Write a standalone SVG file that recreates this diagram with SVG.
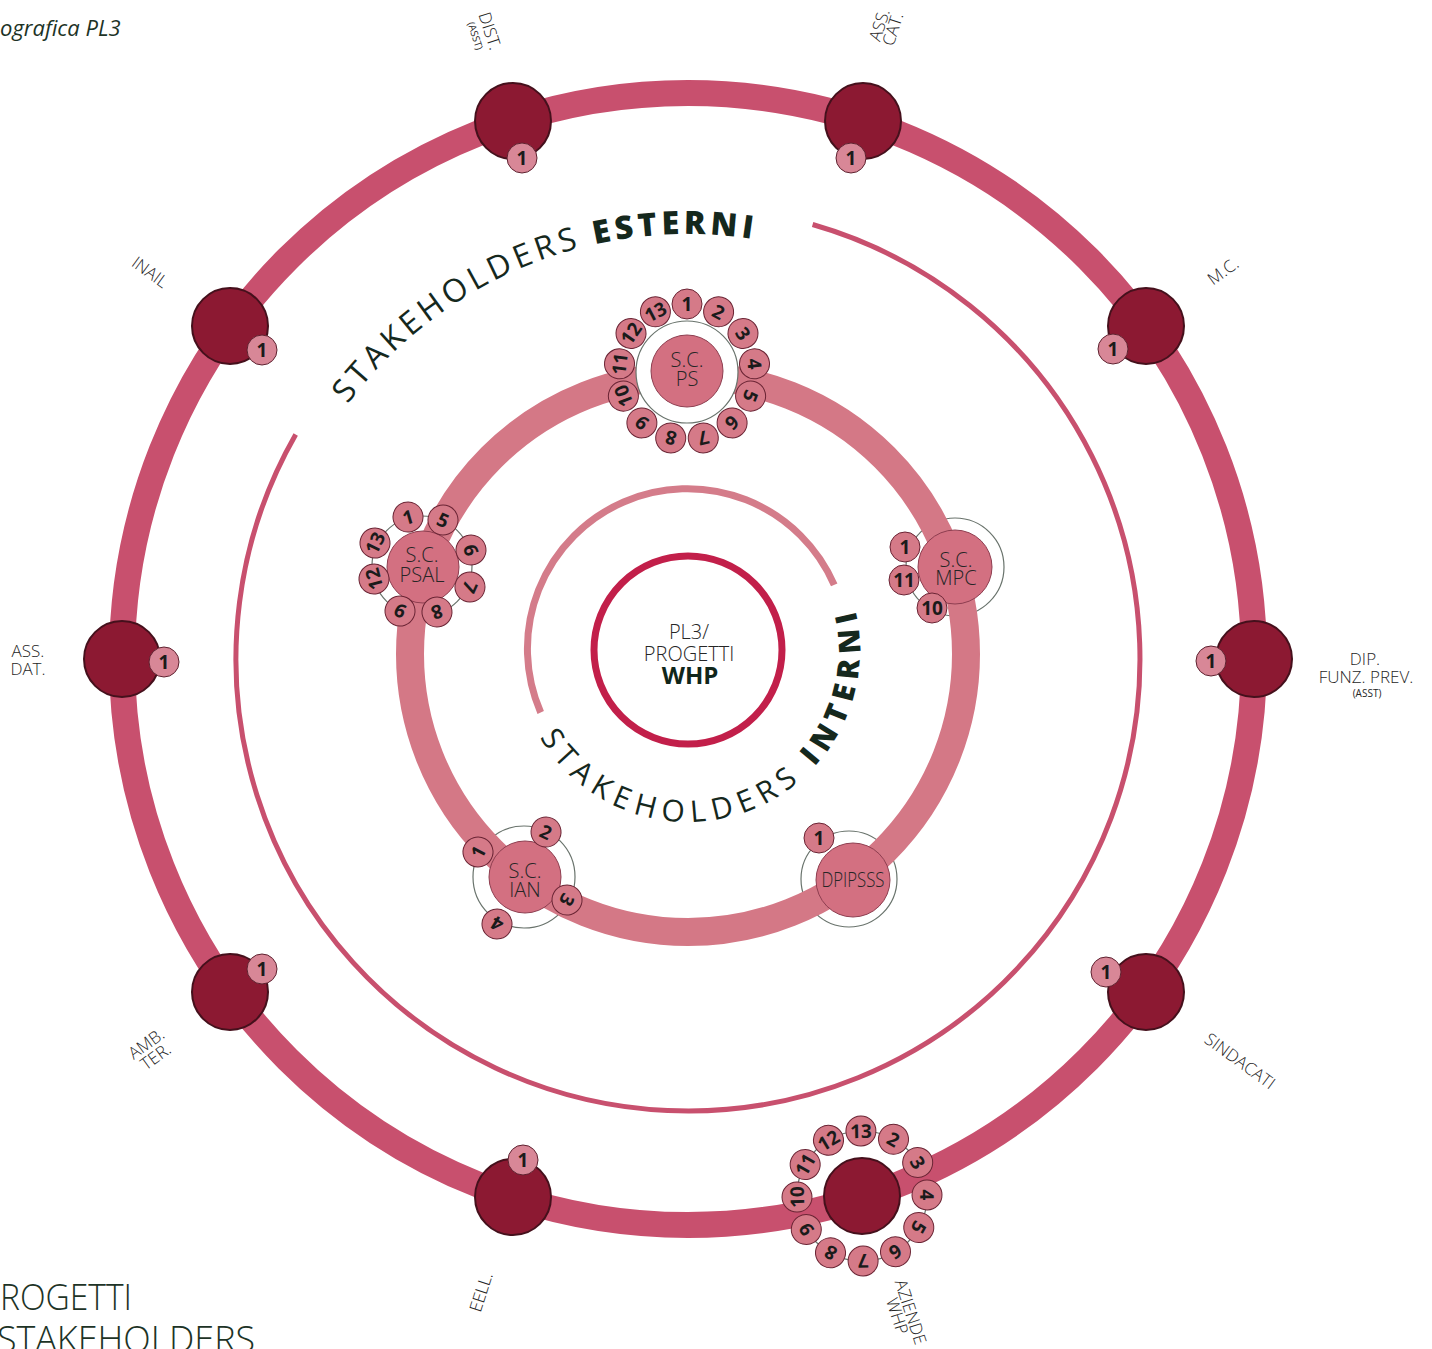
<svg xmlns="http://www.w3.org/2000/svg" width="1432" height="1349" viewBox="0 0 1432 1349">
<style>
text{font-family:'Open Sans','Liberation Sans',sans-serif}
.ro{fill:none;stroke:#c8506e;stroke-width:26}
.rm{fill:none;stroke:#d47886;stroke-width:28}
.thin{fill:none;stroke:#c8506e;stroke-width:5}
.inarc{fill:none;stroke:#d47c8a;stroke-width:7}
.dk{fill:#8c1932;stroke:#45101c;stroke-width:2}
.b1{fill:#d88797;stroke:#5e2230;stroke-width:1}
.bd{fill:#d57a88;stroke:#6a2434;stroke-width:1}
.bn{font-size:19px;font-weight:700;fill:#1b1b1b;text-anchor:middle}
.mn{fill:#d37081;stroke:#8e3e50;stroke-width:1}
.halo{fill:#fff;stroke:#69736c;stroke-width:1.2}
.hl{fill:none;stroke:#69736c;stroke-width:1.2}
.nl{font-size:20px;font-weight:300;fill:#262626;text-anchor:middle}
.lb{font-size:17px;font-weight:300;fill:#262626;text-anchor:middle}
.lbs{font-size:10px;fill:#262626;text-anchor:middle}
.at{fill:#15281d}
.cap{fill:#1d3326}
</style>
<defs>
<circle id="bc" r="15" class="bd"/>
<circle id="b1c" r="15" class="b1"/>
<path id="tpOuter" d="M 267.1 599.9 A 425 425 0 0 1 949.7 324.1"/>
<path id="tpInner" d="M 516.2 659.0 A 172 172 0 1 0 813.8 532.7"/>
</defs>
<rect width="1432" height="1349" fill="#fff"/>

<text class="cap" x="0" y="36" font-size="22" font-style="italic">ografica PL3</text>
<text class="cap" x="0" y="1310" font-size="37" font-weight="300" textLength="132" lengthAdjust="spacingAndGlyphs">ROGETTI</text>
<text class="cap" x="-3" y="1352" font-size="37" font-weight="300" textLength="258" lengthAdjust="spacingAndGlyphs">STAKEHOLDERS</text>

<g id="halos">
<circle class="halo" cx="422" cy="566" r="50"/>
<circle class="halo" cx="955" cy="567" r="49"/>
<circle class="halo" cx="524" cy="877" r="51"/>
<circle class="halo" cx="849" cy="879" r="48"/>
<circle class="hl" cx="862" cy="1196" r="65"/>
</g>

<g id="connectors">
<circle class="ro" cx="688" cy="659" r="566"/>
<circle class="rm" cx="688" cy="654" r="278"/>
<path class="thin" d="M 812.6 224.5 A 452 452 0 1 1 295.7 434.4"/>
<path class="inarc" d="M 540.7 712.5 A 160 160 0 0 1 834.2 584.9"/>
</g>

<g id="titles">
<text class="at" font-size="32" letter-spacing="4.3"><textPath href="#tpOuter" startOffset="50%" text-anchor="middle">STAKEHOLDERS <tspan font-weight="800">ESTERNI</tspan></textPath></text>
<text class="at" font-size="30" letter-spacing="7"><textPath href="#tpInner" startOffset="50%" text-anchor="middle">STAKEHOLDERS <tspan font-weight="800">INTERNI</tspan></textPath></text>
</g>

<g id="node-pl3">
<circle cx="688" cy="650" r="94" fill="#fff" stroke="#c21f4a" stroke-width="7"/>
<text class="nl" x="689" y="639" font-size="25">PL3/</text>
<text class="nl" x="689" y="661" font-size="25">PROGETTI</text>
<text x="690" y="684" font-size="24" font-weight="700" fill="#10261a" text-anchor="middle">WHP</text>
</g>

<g id="node-sc-ps">
<circle class="halo" cx="687" cy="372" r="51"/>
<circle class="mn" cx="687" cy="371" r="36"/>
<text class="nl" x="687" y="367">S.C.</text>
<text class="nl" x="687" y="386">PS</text>
<g transform="translate(687,304)"><use href="#bc"/><text class="bn" y="7">1</text></g>
<g transform="translate(718.6,311.8) rotate(27.7)"><use href="#bc"/><text class="bn" y="7">2</text></g>
<g transform="translate(743,333.4) rotate(55.4)"><use href="#bc"/><text class="bn" y="7">3</text></g>
<g transform="translate(754.5,363.8) rotate(83.1)"><use href="#bc"/><text class="bn" y="7">4</text></g>
<g transform="translate(750.6,396.1) rotate(110.8)"><use href="#bc"/><text class="bn" y="7">5</text></g>
<g transform="translate(732.1,422.9) rotate(138.5)"><use href="#bc"/><text class="bn" y="7">6</text></g>
<g transform="translate(703.3,438) rotate(166.2)"><use href="#bc"/><text class="bn" y="7">7</text></g>
<g transform="translate(670.7,438) rotate(193.8)"><use href="#bc"/><text class="bn" y="7">8</text></g>
<g transform="translate(641.9,422.9) rotate(221.5)"><use href="#bc"/><text class="bn" y="7">9</text></g>
<g transform="translate(623.4,396.1) rotate(249.2)"><use href="#bc"/><text class="bn" y="7">10</text></g>
<g transform="translate(619.5,363.8) rotate(276.9)"><use href="#bc"/><text class="bn" y="7">11</text></g>
<g transform="translate(631,333.4) rotate(304.6)"><use href="#bc"/><text class="bn" y="7">12</text></g>
<g transform="translate(655.4,311.8) rotate(332.3)"><use href="#bc"/><text class="bn" y="7">13</text></g>
</g>

<g id="node-sc-psal">
<circle class="mn" cx="423" cy="567" r="36"/>
<text class="nl" x="422" y="562">S.C.</text>
<text class="nl" x="422" y="582">PSAL</text>
<g transform="translate(408,517) rotate(-16)"><use href="#bc"/><text class="bn" y="7">1</text></g>
<g transform="translate(443,520) rotate(24)"><use href="#bc"/><text class="bn" y="7">5</text></g>
<g transform="translate(471,550) rotate(72)"><use href="#bc"/><text class="bn" y="7">6</text></g>
<g transform="translate(470,587) rotate(114)"><use href="#bc"/><text class="bn" y="7">7</text></g>
<g transform="translate(437,612) rotate(162)"><use href="#bc"/><text class="bn" y="7">8</text></g>
<g transform="translate(400,611) rotate(206)"><use href="#bc"/><text class="bn" y="7">9</text></g>
<g transform="translate(374,579) rotate(255)"><use href="#bc"/><text class="bn" y="7">12</text></g>
<g transform="translate(375,543) rotate(296)"><use href="#bc"/><text class="bn" y="7">13</text></g>
</g>

<g id="node-sc-mpc">
<circle class="mn" cx="955" cy="567" r="37"/>
<text class="nl" x="956" y="567">S.C.</text>
<text class="nl" x="956" y="585">MPC</text>
<g transform="translate(905,547)"><use href="#bc"/><text class="bn" y="7">1</text></g>
<g transform="translate(904,580)"><use href="#bc"/><text class="bn" y="7">11</text></g>
<g transform="translate(932,608)"><use href="#bc"/><text class="bn" y="7">10</text></g>
</g>

<g id="node-dpipsss">
<circle class="mn" cx="853" cy="880" r="37"/>
<text class="nl" x="853" y="887" font-size="18" textLength="63" lengthAdjust="spacingAndGlyphs">DPIPSSS</text>
<g transform="translate(819,838)"><use href="#bc"/><text class="bn" y="7">1</text></g>
</g>

<g id="node-sc-ian">
<circle class="mn" cx="525" cy="877" r="36"/>
<text class="nl" x="525" y="878">S.C.</text>
<text class="nl" x="525" y="897">IAN</text>
<g transform="translate(478,852) rotate(-62)"><use href="#bc"/><text class="bn" y="7">1</text></g>
<g transform="translate(546,832) rotate(25)"><use href="#bc"/><text class="bn" y="7">2</text></g>
<g transform="translate(567,900) rotate(119)"><use href="#bc"/><text class="bn" y="7">3</text></g>
<g transform="translate(497,924) rotate(211)"><use href="#bc"/><text class="bn" y="7">4</text></g>
</g>

<g id="node-dist">
<circle class="dk" cx="513" cy="121" r="38"/>
<g transform="translate(522,158)"><use href="#b1c"/><text class="bn" y="7">1</text></g>
<g transform="translate(490,31) rotate(72)"><text class="lb" y="6">DIST.</text><text class="lbs" y="19">(ASST)</text></g>
</g>
<g id="node-ass-cat">
<circle class="dk" cx="863" cy="121" r="38"/>
<g transform="translate(851,158)"><use href="#b1c"/><text class="bn" y="7">1</text></g>
<g transform="translate(886,27) rotate(-72)"><text class="lb" y="-1">ASS.</text><text class="lb" y="13">CAT.</text></g>
</g>
<g id="node-mc">
<circle class="dk" cx="1146" cy="326" r="38"/>
<g transform="translate(1113,349)"><use href="#b1c"/><text class="bn" y="7">1</text></g>
<g transform="translate(1223,271) rotate(-36)"><text class="lb" y="6">M.C.</text></g>
</g>
<g id="node-dip">
<circle class="dk" cx="1254" cy="659" r="38"/>
<g transform="translate(1211,661)"><use href="#b1c"/><text class="bn" y="7">1</text></g>
<text class="lb" x="1365" y="665" font-size="18">DIP.</text>
<text class="lb" x="1366" y="683" font-size="18">FUNZ. PREV.</text>
<text class="lbs" x="1367" y="697" font-size="11">(ASST)</text>
</g>
<g id="node-sindacati">
<circle class="dk" cx="1146" cy="992" r="38"/>
<g transform="translate(1106,972)"><use href="#b1c"/><text class="bn" y="7">1</text></g>
<g transform="translate(1240,1061) rotate(36)"><text class="lb" y="6">SINDACATI</text></g>
</g>
<g id="node-aziende">
<circle class="dk" cx="862" cy="1196" r="38"/>
<g transform="translate(860.9,1131) rotate(-1)"><use href="#bc"/><text class="bn" y="7">13</text></g>
<g transform="translate(893.5,1139.2) rotate(29)"><use href="#bc"/><text class="bn" y="7">2</text></g>
<g transform="translate(917.7,1162.5) rotate(59)"><use href="#bc"/><text class="bn" y="7">3</text></g>
<g transform="translate(927,1194.9) rotate(89)"><use href="#bc"/><text class="bn" y="7">4</text></g>
<g transform="translate(918.8,1227.5) rotate(119)"><use href="#bc"/><text class="bn" y="7">5</text></g>
<g transform="translate(895.5,1251.7) rotate(149)"><use href="#bc"/><text class="bn" y="7">6</text></g>
<g transform="translate(863.1,1261) rotate(179)"><use href="#bc"/><text class="bn" y="7">7</text></g>
<g transform="translate(830.5,1252.8) rotate(209)"><use href="#bc"/><text class="bn" y="7">8</text></g>
<g transform="translate(806.3,1229.5) rotate(239)"><use href="#bc"/><text class="bn" y="7">9</text></g>
<g transform="translate(797,1197.1) rotate(269)"><use href="#bc"/><text class="bn" y="7">10</text></g>
<g transform="translate(805.2,1164.5) rotate(299)"><use href="#bc"/><text class="bn" y="7">11</text></g>
<g transform="translate(828.5,1140.3) rotate(329)"><use href="#bc"/><text class="bn" y="7">12</text></g>
<g transform="translate(904,1314) rotate(72)"><text class="lb" y="-1" font-size="16">AZIENDE</text><text class="lb" y="13" font-size="16">WHP</text></g>
</g>
<g id="node-eell">
<circle class="dk" cx="513" cy="1197" r="38"/>
<g transform="translate(523,1160)"><use href="#b1c"/><text class="bn" y="7">1</text></g>
<g transform="translate(481,1292) rotate(-72)"><text class="lb" y="6">EELL.</text></g>
</g>
<g id="node-amb-ter">
<circle class="dk" cx="230" cy="992" r="38"/>
<g transform="translate(262,969)"><use href="#b1c"/><text class="bn" y="7">1</text></g>
<g transform="translate(151,1050) rotate(-36)"><text class="lb" y="-2">AMB.</text><text class="lb" y="14">TER.</text></g>
</g>
<g id="node-ass-dat">
<circle class="dk" cx="122" cy="659" r="38"/>
<g transform="translate(164,662)"><use href="#b1c"/><text class="bn" y="7">1</text></g>
<text class="lb" x="28" y="657" font-size="18">ASS.</text>
<text class="lb" x="28" y="675" font-size="18">DAT.</text>
</g>
<g id="node-inail">
<circle class="dk" cx="230" cy="326" r="38"/>
<g transform="translate(262,350)"><use href="#b1c"/><text class="bn" y="7">1</text></g>
<g transform="translate(150,272) rotate(36)"><text class="lb" y="6">INAIL</text></g>
</g>
</svg>
